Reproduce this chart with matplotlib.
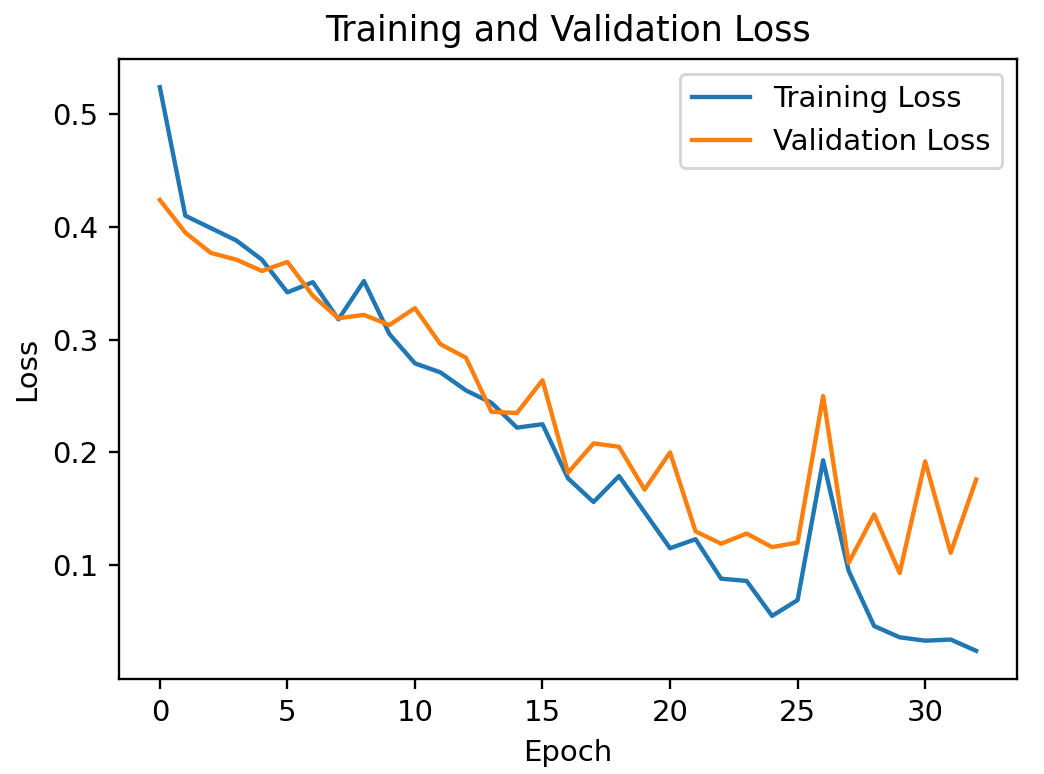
import matplotlib
matplotlib.use("Agg")
import matplotlib.pyplot as plt

epochs = list(range(33))
train_loss = [0.524, 0.410, 0.399, 0.388, 0.371, 0.342, 0.351, 0.318, 0.352, 0.305,
              0.279, 0.271, 0.255, 0.244, 0.222, 0.225, 0.177, 0.156, 0.179, 0.147,
              0.115, 0.123, 0.088, 0.086, 0.055, 0.069, 0.193, 0.095, 0.046, 0.036,
              0.033, 0.034, 0.024]
val_loss = [0.424, 0.395, 0.377, 0.371, 0.361, 0.369, 0.339, 0.319, 0.322, 0.313,
            0.328, 0.296, 0.284, 0.236, 0.235, 0.264, 0.182, 0.208, 0.205, 0.167,
            0.200, 0.130, 0.119, 0.128, 0.116, 0.120, 0.250, 0.102, 0.145, 0.093,
            0.192, 0.111, 0.176]

dpi = 210
fig = plt.figure(figsize=(1044 / dpi, 774 / dpi), dpi=dpi)
ax = fig.add_axes([119 / 1044, 1 - 679 / 774, (1017 - 119) / 1044, (679 - 59) / 774])
ax.plot(epochs, train_loss, label="Training Loss")
ax.plot(epochs, val_loss, label="Validation Loss")
ax.set_title("Training and Validation Loss")
ax.set_xlabel("Epoch")
ax.set_ylabel("Loss")
ax.set_xticks([0, 5, 10, 15, 20, 25, 30])
ax.set_yticks([0.1, 0.2, 0.3, 0.4, 0.5])
ax.legend(loc="upper right")
fig.savefig("out.png", dpi=dpi)
